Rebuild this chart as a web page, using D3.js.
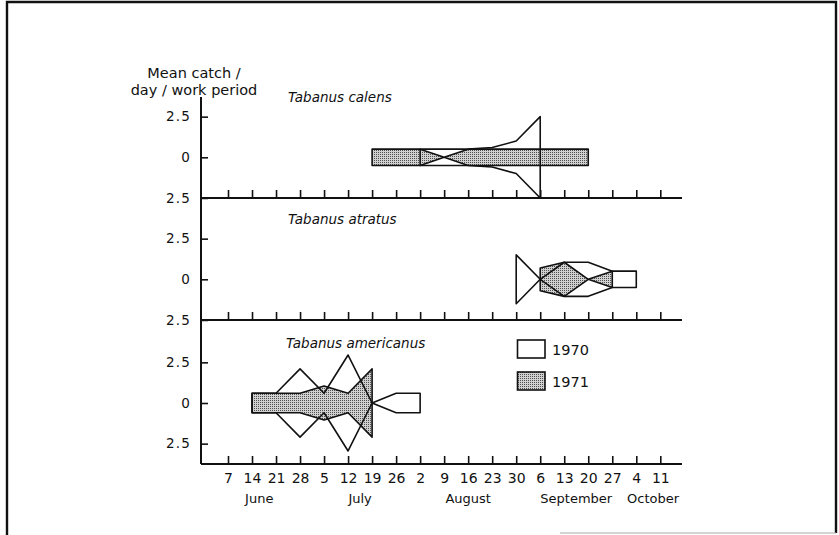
<!DOCTYPE html>
<html><head><meta charset="utf-8">
<script src="https://cdn.jsdelivr.net/npm/d3@7"></script>
<style>
html,body{margin:0;padding:0;background:#fff;}
svg{display:block;font-family:"DejaVu Sans",sans-serif;}
</style></head>
<body><svg id="c" width="839" height="535"></svg>
<script>
// ---- data ----
const weekLabels = ["7","14","21","28","5","12","19","26","2","9","16","23","30","6","13","20","27","4","11"];
const monthLabels = ["June","July","August","September","October"];
const monthAt = [1.3, 5.5, 10.0, 14.5, 17.7]; // week index at which month name is centred
const species = ["Tabanus calens","Tabanus atratus","Tabanus americanus"];
const yTickValues = [-2.5, 0, 2.5];
const legendLabels = ["1970","1971"];
const calens1970 = [null,null,null,null,null,null,null,null,0.5,0.5,0.5,0.6,1.0,2.5,null,null,null,null,null];
const calens1971 = [null,null,null,null,null,null,0.5,0.5,0.5,0,0.5,0.5,0.5,0.5,0.5,0.5,null,null,null];
const atratus1970 = [null,null,null,null,null,null,null,null,null,null,null,null,1.5,0,1.05,1.05,0.5,0.5,null];
const atratus1971 = [null,null,null,null,null,null,null,null,null,null,null,null,null,0.7,1.05,0,0.5,null,null];
const americanus1970 = [null,0.6,0.6,2.1,0.6,2.95,0,0.6,0.6,null,null,null,null,null,null,null,null,null,null];
const americanus1971 = [null,0.6,0.6,0.6,1.05,0.6,2.1,null,null,null,null,null,null,null,null,null,null,null,null];
const series70 = [calens1970, atratus1970, americanus1970];
const series71 = [calens1971, atratus1971, americanus1971];

// ---- layout ----
const svg = d3.select("#c");
const ink = "#111";
const axisLeftX = 201, axisRightX = 682;
const panelCentres = [157.3, 279.3, 403];
const panelBottoms = [198, 320, 464];
const half = 40.65;

const defs = svg.append("defs");
const pat = defs.append("pattern").attr("id","stipple").attr("patternUnits","userSpaceOnUse")
  .attr("width",2).attr("height",2);
pat.append("rect").attr("width",2).attr("height",2).attr("fill","#d0d0d0");
pat.append("rect").attr("width",1).attr("height",1).attr("fill","#505050");

// frame
svg.append("path").attr("d","M7,535 L7,2 L836,2 L836,533").attr("fill","none").attr("stroke",ink).attr("stroke-width",2.4);
svg.append("line").attr("x1",560).attr("x2",836).attr("y1",533).attr("y2",533).attr("stroke","#aaa").attr("stroke-width",1);

const x = d3.scaleLinear().domain([0,18]).range([228,660.3]);

// y axis title
const yt = svg.append("text").attr("fill",ink).attr("font-size",14.5).attr("text-anchor","middle");
yt.append("tspan").attr("x",194).attr("y",78).text("Mean catch /");
yt.append("tspan").attr("x",194).attr("y",95).text("day / work period");

// vertical axis line
svg.append("line").attr("x1",axisLeftX).attr("x2",axisLeftX).attr("y1",97).attr("y2",panelBottoms[2])
  .attr("stroke",ink).attr("stroke-width",2);

const titleX = [288, 288, 286];
const titleDy = [-55, -55, -55];

species.forEach((name,p)=>{
  const c = panelCentres[p];
  const y = d3.scaleLinear().domain([-2.5,2.5]).range([c+half, c-half]);
  const g = svg.append("g");

  // y axis ticks
  const ya = d3.axisLeft(y).tickValues(yTickValues).tickSizeInner(-7).tickSizeOuter(0).tickPadding(10)
    .tickFormat(d => d===0 ? "0" : "2.5");
  const yg = g.append("g").attr("transform",`translate(${axisLeftX},0)`).call(ya);
  yg.select(".domain").remove();
  yg.selectAll("line").attr("stroke",ink).attr("stroke-width",1.6);
  yg.selectAll("text").attr("font-size",13.5).attr("font-family","DejaVu Sans").attr("fill",ink).attr("letter-spacing",1.2);

  // x axis
  const xa = d3.axisBottom(x).tickValues(d3.range(19)).tickSizeInner(-8).tickSizeOuter(0).tickPadding(9)
    .tickFormat(p===2 ? (i=>weekLabels[i]) : (()=>""));
  const xg = g.append("g").attr("transform",`translate(0,${panelBottoms[p]})`).call(xa);
  xg.select(".domain").remove();
  xg.selectAll("line").attr("stroke",ink).attr("stroke-width",1.6);
  xg.selectAll("text").attr("font-size",14).attr("font-family","DejaVu Sans").attr("fill",ink);
  g.append("line").attr("x1",axisLeftX).attr("x2",axisRightX).attr("y1",panelBottoms[p]).attr("y2",panelBottoms[p])
    .attr("stroke",ink).attr("stroke-width",2);

  // title
  g.append("text").attr("x",titleX[p]).attr("y",c+titleDy[p]).attr("font-size",13.5).attr("font-style","italic")
    .attr("fill",ink).text(name);

  const area = d3.area().defined(d=>d!=null).x((d,i)=>x(i)).y0(d=>y(-d)).y1(d=>y(d));
  g.append("path").datum(series71[p]).attr("d",area).attr("fill","url(#stipple)")
    .attr("stroke",ink).attr("stroke-width",1.6).attr("stroke-linejoin","round");
  g.append("path").datum(series70[p]).attr("d",area).attr("fill","none")
    .attr("stroke",ink).attr("stroke-width",1.6).attr("stroke-linejoin","round");
});

// month labels
svg.selectAll("text.month").data(monthLabels).join("text").attr("class","month")
  .attr("x",(d,i)=>x(monthAt[i])).attr("y",503).attr("text-anchor","middle")
  .attr("font-size",13).attr("fill",ink).text(d=>d);

// legend
const lg = svg.append("g");
legendLabels.forEach((t,i)=>{
  lg.append("rect").attr("x",517.5).attr("y",340+i*32).attr("width",27.5).attr("height",18)
    .attr("fill", i===0 ? "#fff" : "url(#stipple)").attr("stroke",ink).attr("stroke-width",1.6);
  lg.append("text").attr("x",552).attr("y",355+i*32).attr("font-size",14.5).attr("fill",ink).text(t);
});
</script></body></html>
